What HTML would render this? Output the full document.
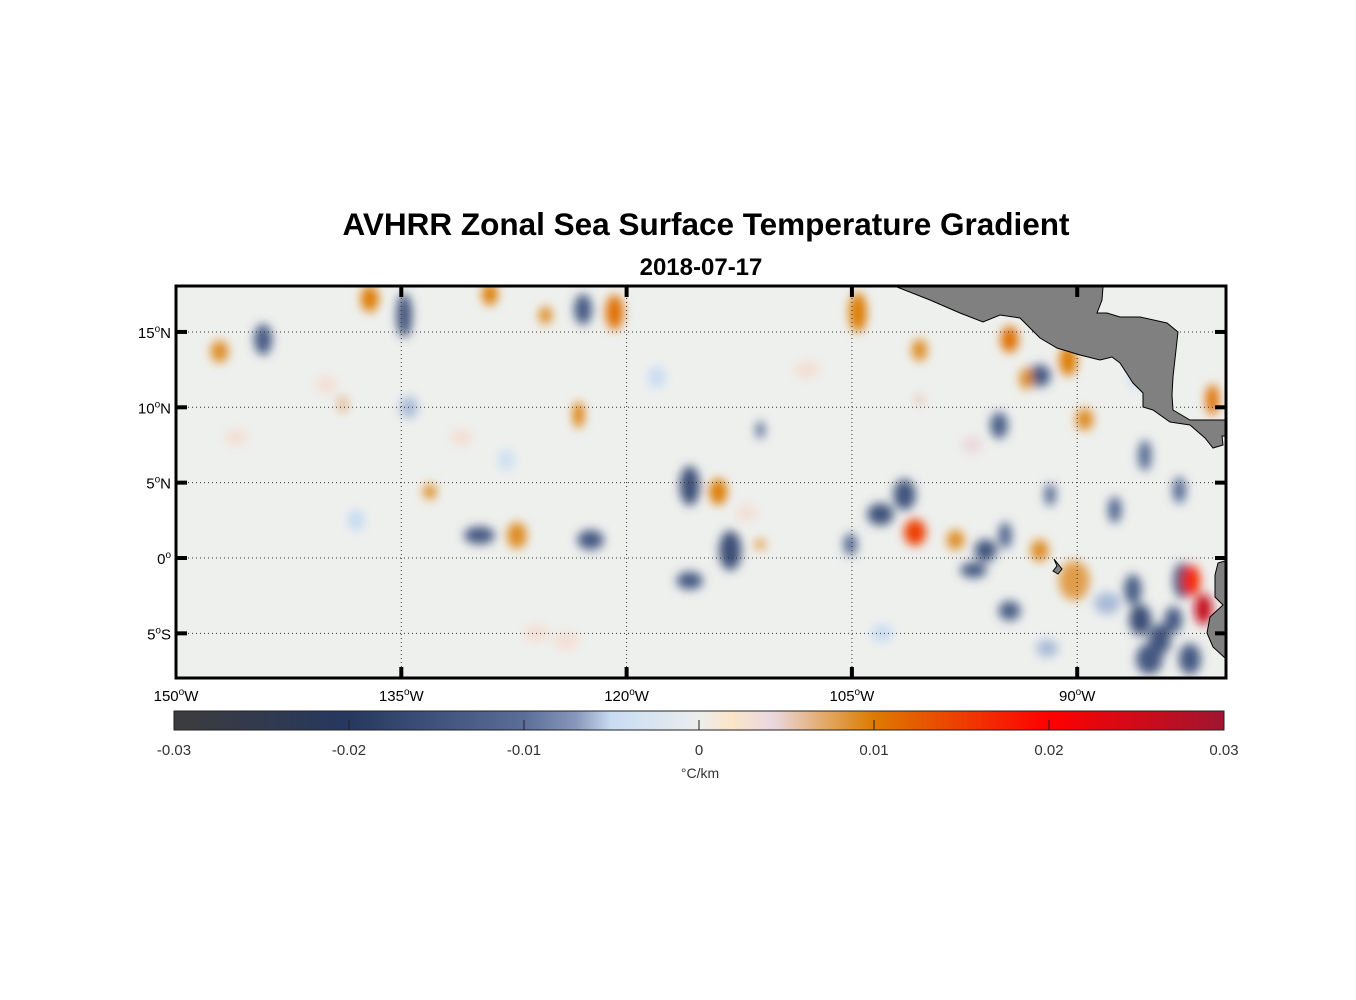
<!DOCTYPE html>
<html><head><meta charset="utf-8"><style>
body{margin:0;background:#fff;width:1356px;height:1000px;overflow:hidden;font-family:"Liberation Sans",Arial,sans-serif}
svg{display:block}
</style></head><body>
<svg id="chart" width="1356" height="1000">
<defs>
<filter id="blur" x="-20%" y="-20%" width="140%" height="140%"><feGaussianBlur stdDeviation="5"/></filter>
<clipPath id="mapclip"><rect x="176" y="286" width="1050" height="392"/></clipPath>
<linearGradient id="cbgrad" x1="0" x2="1" y1="0" y2="0">
<stop offset="0" stop-color="#3c3c3c"/><stop offset="0.1667" stop-color="#263860"/>
<stop offset="0.3333" stop-color="#5a6e98"/><stop offset="0.3833" stop-color="#8898bb"/>
<stop offset="0.4167" stop-color="#c8dcf2"/><stop offset="0.5" stop-color="#eceeee"/>
<stop offset="0.53" stop-color="#fbe6c8"/><stop offset="0.57" stop-color="#ead8e0"/>
<stop offset="0.63" stop-color="#e0a050"/><stop offset="0.6667" stop-color="#dd7a00"/>
<stop offset="0.8333" stop-color="#ff0000"/><stop offset="1" stop-color="#a01530"/>
</linearGradient>
</defs>
<text x="706" y="235" text-anchor="middle" font-size="31.5" font-weight="bold">AVHRR Zonal Sea Surface Temperature Gradient</text>
<text x="701" y="275" text-anchor="middle" font-size="24" font-weight="bold">2018-07-17</text>
<rect x="176" y="286" width="1050" height="392" fill="#eef0ee"/>
<g id="field" clip-path="url(#mapclip)" filter="url(#blur)"></g>
<g id="grid" clip-path="url(#mapclip)"></g>
<g clip-path="url(#mapclip)">
<polygon fill="#808080" stroke="#000" stroke-width="1" points="897,287 930,300 960,313 983,322 1000,315 1020,318 1040,338 1057,348 1080,355 1100,360 1112,357 1120,363 1133,383 1143,393 1143,407 1153,410 1170,422 1190,425 1205,438 1213,448 1223,445 1222,436 1228,436 1228,420 1190,420 1173,410 1172,395 1173,377 1178,332 1167,323 1140,317 1120,317 1107,313 1097,313 1102,300 1103,287"/>
<polygon fill="#808080" stroke="#000" stroke-width="1" points="1228,560 1218,563 1215,575 1215,597 1223,605 1210,617 1207,633 1213,647 1225,658 1228,660"/>
<polygon fill="#808080" stroke="#000" stroke-width="1" points="1054,559 1058,564 1062,569 1058,574 1053,571 1057,566"/>
</g>
<rect x="176" y="286" width="1050" height="392" fill="none" stroke="#000" stroke-width="3"/>
<g id="ticks"></g>
<rect x="174" y="711" width="1050" height="19" fill="url(#cbgrad)" stroke="#222" stroke-width="1"/>
<g id="cbticks"></g>
<text x="700" y="778" text-anchor="middle" font-size="14" fill="#333">°C/km</text>
</svg>
<script>
const lonTicks=[-150,-135,-120,-105,-90];
const lonLabels=["150","135","120","105","90"];
const latTicks=[15,10,5,0,-5];
const latLabels=["15","10","5","0","5"];
const latHemi=["N","N","N","",'S'];
const cbTicks=[-0.03,-0.02,-0.01,0,0.01,0.02,0.03];
const blobLon=[-137.1,-134.8,-129.1,-125.4,-122.9,-120.8,-123.2,-144.2,-147.1,-138.9,-133.1,-129.8,-127.3,-122.4,-115.8,-113.9,-113.1,-115.8,-111.1,-111.1,-104.6,-103.1,-101.5,-100.8,-98.1,-96.1,-96.9,-94.8,-92.5,-91.8,-90.2,-94.5,-87.5,-95.2,-92.5,-94.5,-90.6,-93.4,-89.5,-85.5,-83.2,-81.0,-83.0,-82.4,-81.6,-85.8,-84.5,-85.2,-82.5,-86.3,-83.6,-100.5,-100.5,-105.1,-134.5,-140.0,-126.0,-131.0,-118.0,-108.0,-97.0,-88.0,-146.0,-124.0,-112.0,-103.0,-92.0,-86.0,-138.0,-128.0];
const blobLat=[17.2,16.1,17.5,16.1,16.5,16.3,9.5,14.5,13.7,10.2,4.4,1.5,1.5,1.2,4.8,4.4,0.5,-1.5,0.9,8.5,16.3,2.9,4.2,1.7,1.2,0.5,-0.8,1.5,0.5,4.2,-1.5,-3.5,3.2,8.8,12.1,14.5,13.1,11.9,9.2,6.8,4.5,10.5,-1.5,-1.5,-3.4,-4.1,-5.4,-6.7,-6.7,-2.1,-4.1,13.8,10.5,0.9,10.0,11.5,-5.0,8.0,12.0,12.5,7.5,-3.0,8.0,-5.5,3.0,-5.0,-6.0,12.0,2.5,6.5];
const blobVal=[0.01,-0.015,0.01,0.009,-0.014,0.011,0.01,-0.014,0.009,0.006,0.009,-0.014,0.009,-0.014,-0.016,0.01,-0.016,-0.014,0.008,-0.011,0.01,-0.015,-0.015,0.015,0.009,-0.015,-0.014,-0.012,0.009,-0.012,0.008,-0.013,-0.012,-0.013,-0.014,0.011,0.01,0.009,0.009,-0.011,-0.011,0.011,-0.016,0.017,0.026,-0.016,-0.015,-0.014,-0.014,-0.013,-0.014,0.009,0.005,-0.012,-0.006,0.003,0.003,0.003,-0.005,0.003,0.004,-0.006,0.003,0.003,0.003,-0.005,-0.006,-0.005,-0.005,-0.004];
const blobSize=[[8,12],[7,20],[7,10],[6,8],[8,14],[8,16],[5,12],[8,14],[8,10],[5,8],[6,7],[14,8],[9,12],[12,9],[9,18],[8,12],[10,18],[12,8],[5,5],[4,8],[8,18],[12,10],[10,14],[10,12],[8,9],[10,10],[12,7],[6,12],[8,10],[5,10],[14,18],[10,9],[6,12],[8,12],[10,10],[8,12],[8,14],[6,10],[8,10],[6,14],[6,12],[6,14],[8,16],[8,14],[8,14],[10,14],[10,14],[12,14],[10,14],[8,14],[8,12],[7,10],[5,5],[6,10],[8,10],[10,8],[12,8],[10,8],[8,10],[12,8],[10,8],[12,10],[10,8],[12,8],[10,8],[10,8],[10,8],[8,10],[8,10],[8,10]];
const X=lon=>176+(lon+150)*15.02;
const Y=lat=>558-lat*15.07;
const CB=v=>174+(v+0.03)/0.06*1050;
const stops=[[-0.03,[60,60,60]],[-0.02,[38,56,96]],[-0.01,[90,110,152]],[-0.007,[136,152,187]],[-0.005,[200,220,242]],[0,[236,238,238]],[0.0018,[251,230,200]],[0.0042,[234,216,224]],[0.0078,[224,160,80]],[0.01,[221,122,0]],[0.02,[255,0,0]],[0.03,[160,21,48]]];
function col(v){v=Math.max(-0.03,Math.min(0.03,v));for(let i=0;i<stops.length-1;i++){const a=stops[i],b=stops[i+1];if(v<=b[0]){const t=(v-a[0])/(b[0]-a[0]);return 'rgb('+a[1].map((c,k)=>Math.round(c+(b[1][k]-c)*t)).join(',')+')';}}return 'rgb(160,21,48)';}
const NS='http://www.w3.org/2000/svg';
function mk(tag,attrs,parent){const e=document.createElementNS(NS,tag);for(const k in attrs)e.setAttribute(k,attrs[k]);parent.appendChild(e);return e;}
const field=document.getElementById('field');
for(let i=0;i<blobLon.length;i++){
 const e=mk('ellipse',{cx:X(blobLon[i]),cy:Y(blobLat[i]),rx:blobSize[i][0]*1.1,ry:blobSize[i][1]*1.1,fill:col(blobVal[i])},field);
 
 
}
const grid=document.getElementById('grid'),ticks=document.getElementById('ticks');
lonTicks.forEach((lo,i)=>{
 const x=X(lo);
 if(i>0){const l=mk('line',{x1:x,x2:x,y1:286,y2:678,stroke:'#333','stroke-width':1,'stroke-dasharray':'1,3'},grid);
 
 
 mk('rect',{x:x-2,y:286,width:4,height:11,fill:'#000'},ticks);mk('rect',{x:x-2,y:667,width:4,height:11,fill:'#000'},ticks);}
 const t=mk('text',{x:x,y:701,'text-anchor':'middle','font-size':15},ticks);
 t.innerHTML=lonLabels[i]+'<tspan dy="-6" font-size="10">o</tspan><tspan dy="6">W</tspan>';
 
 
});
latTicks.forEach((la,i)=>{
 const y=Y(la);
 const l=mk('line',{x1:176,x2:1226,y1:y,y2:y,stroke:'#333','stroke-width':1,'stroke-dasharray':'1,3'},grid);
 
 
 mk('rect',{x:176,y:y-2,width:11,height:4,fill:'#000'},ticks);mk('rect',{x:1215,y:y-2,width:11,height:4,fill:'#000'},ticks);
 const t=mk('text',{x:171,y:y+6,'text-anchor':'end','font-size':15},ticks);
 t.innerHTML=latLabels[i]+'<tspan dy="-6" font-size="10">o</tspan><tspan dy="6">'+latHemi[i]+'</tspan>';
 
 
});
const cbt=document.getElementById('cbticks');
cbTicks.forEach(v=>{
 const x=CB(v);
 if(v>-0.03&&v<0.03)mk('line',{x1:x,x2:x,y1:720,y2:730,stroke:'#222','stroke-width':1},cbt);
 const t=mk('text',{x:x,y:755,'text-anchor':'middle','font-size':15,fill:'#333'},cbt);
 t.textContent=v===0?'0':String(v);
 
 
});
</script>
</body></html>
